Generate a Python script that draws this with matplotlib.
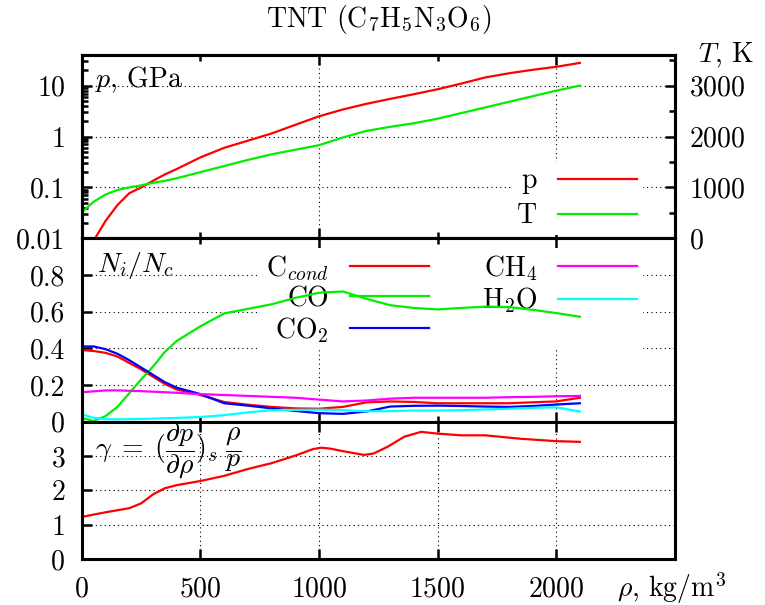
import numpy as np
import matplotlib.pyplot as plt
from matplotlib.ticker import LogLocator, NullFormatter

plt.rcParams['font.family'] = 'serif'
plt.rcParams['font.serif'] = ['cmr10']
plt.rcParams['mathtext.fontset'] = 'cm'
plt.rcParams['axes.formatter.use_mathtext'] = True
plt.rcParams['font.size'] = 20

# density grid, kg/m^3
rho = [0, 50, 100, 150, 200, 250, 300, 350, 400, 500, 600, 700, 800, 900,
       1000, 1100, 1200, 1300, 1400, 1500, 1600, 1700, 1800, 1900, 2000, 2100]

# pressure, GPa and temperature, K
p = [0.004, 0.009, 0.022, 0.045, 0.077, 0.10, 0.135, 0.18, 0.23, 0.39, 0.6, 0.83, 1.15,
     1.7, 2.5, 3.4, 4.4, 5.5, 6.8, 8.5, 11.0, 14.5, 17.5, 20.5, 23.5, 28.0]
T = [510, 720, 860, 950, 1000, 1040, 1090, 1130, 1180, 1300, 1420, 1540, 1650,
     1740, 1830, 1980, 2110, 2190, 2260, 2350, 2460, 2570, 2680, 2790, 2900, 3000]

# N_i / N_c
c_cond = [0.39, 0.385, 0.375, 0.355, 0.32, 0.285, 0.245, 0.205, 0.175, 0.145, 0.107, 0.092, 0.08,
          0.072, 0.07, 0.08, 0.105, 0.11, 0.107, 0.10, 0.10, 0.10, 0.10, 0.105, 0.11, 0.13]
co = [0.02, 0.003, 0.03, 0.08, 0.155, 0.23, 0.30, 0.38, 0.44, 0.52, 0.59, 0.615, 0.64,
      0.675, 0.703, 0.71, 0.67, 0.635, 0.62, 0.612, 0.62, 0.627, 0.625, 0.61, 0.592, 0.572]
co2 = [0.41, 0.41, 0.395, 0.37, 0.335, 0.295, 0.255, 0.215, 0.185, 0.15, 0.10, 0.087, 0.072,
       0.058, 0.046, 0.042, 0.055, 0.082, 0.086, 0.087, 0.085, 0.082, 0.08, 0.085, 0.093, 0.10]
ch4 = [0.16, 0.165, 0.17, 0.17, 0.168, 0.166, 0.163, 0.16, 0.157, 0.15, 0.145, 0.14, 0.135,
       0.13, 0.12, 0.11, 0.115, 0.125, 0.13, 0.13, 0.13, 0.13, 0.133, 0.135, 0.138, 0.14]
h2o = [0.04, 0.02, 0.013, 0.012, 0.013, 0.014, 0.016, 0.018, 0.02, 0.025, 0.035, 0.05, 0.062,
       0.064, 0.065, 0.062, 0.056, 0.057, 0.06, 0.06, 0.062, 0.066, 0.07, 0.075, 0.078, 0.055]

# adiabatic exponent, read on its own density points
rho_g = [0, 25, 100, 200, 250, 300, 350, 400, 500, 600, 700, 800, 900, 975, 1010,
         1050, 1100, 1190, 1230, 1290, 1360, 1430, 1500, 1600, 1700, 1850, 2000, 2100]
gamma = [1.22, 1.26, 1.36, 1.48, 1.62, 1.88, 2.06, 2.15, 2.27, 2.42, 2.62, 2.79, 3.01, 3.20, 3.24,
         3.21, 3.14, 3.03, 3.07, 3.27, 3.56, 3.70, 3.65, 3.60, 3.60, 3.50, 3.43, 3.41]

p_ticks = [0.01, 0.1, 1, 10]
p_labels = ['0.01', '0.1', '1', '10']
T_ticks = [0, 1000, 2000, 3000]
N_ticks = [0, 0.2, 0.4, 0.6, 0.8]
N_labels = ['0', '0.2', '0.4', '0.6', '0.8']
g_ticks = [0, 1, 2, 3]
x_ticks = [0, 500, 1000, 1500, 2000]

GREEN = '#00ee00'
LW = 1.6

fig = plt.figure(figsize=(7.65, 6.05), dpi=100)
gs = fig.add_gridspec(3, 1, height_ratios=[4, 4, 3], hspace=0,
                      left=0.107, right=0.882, top=0.909, bottom=0.076)
ax1 = fig.add_subplot(gs[0])
ax2 = fig.add_subplot(gs[1])
ax3 = fig.add_subplot(gs[2])


def style(ax):
    for s in ax.spines.values():
        s.set_linewidth(2.2)
    ax.tick_params(which='both', direction='in', top=True, right=False, width=1.8)
    ax.tick_params(which='major', length=7, pad=12)
    ax.tick_params(which='minor', length=4)
    ax.grid(True, which='major', ls=(0, (1, 3)), color='black', lw=0.8)
    ax.set_axisbelow(True)
    ax.set_xlim(0, 2500)


for ax in (ax1, ax2, ax3):
    style(ax)

# top panel: p and T
ax1.set_yscale('log')
ax1.set_ylim(0.01, 40)
ax1.set_yticks(p_ticks, p_labels)
ax1.yaxis.set_minor_locator(LogLocator(subs=np.arange(2, 10)))
ax1.yaxis.set_minor_formatter(NullFormatter())
ax1.set_xticks([0, 1000, 2000], [])
ax1.set_xticks([500, 1500, 2500], minor=True)
lp, = ax1.plot(rho, p, color='red', lw=LW)

axT = ax1.twinx()
axT.set_ylim(0, 3600)
axT.set_yticks(T_ticks)
axT.set_yticks([500, 1500, 2500, 3500], minor=True)
axT.tick_params(which='both', direction='in', width=1.8)
axT.tick_params(which='major', length=7, pad=10)
axT.tick_params(which='minor', length=4)
for s in axT.spines.values():
    s.set_linewidth(2.2)
lT, = axT.plot(rho, T, color=GREEN, lw=LW)

leg1 = axT.legend([lp, lT], ['p', 'T'], loc='lower right', bbox_to_anchor=(0.946, 0.018),
                  markerfirst=False, handlelength=2.85, handletextpad=0.75,
                  labelspacing=0.32, borderpad=0.2, borderaxespad=0,
                  fancybox=False, framealpha=1)
leg1.get_frame().set_edgecolor('none')
leg1.set_zorder(1)

ax1.text(0.022, 0.95, '$p$, GPa', transform=ax1.transAxes, va='top', ha='left')
fig.text(0.912, 0.909, '$T$, K', va='center', ha='left')

# middle panel: species fractions
ax2.set_ylim(0, 1.0)
ax2.set_yticks(N_ticks, N_labels)
ax2.set_xticks([0, 1000, 2000], [])
ax2.set_xticks([500, 1500, 2500], minor=True)
h1, = ax2.plot(rho, c_cond, color='red', lw=LW)
h2, = ax2.plot(rho, co, color=GREEN, lw=LW)
h3, = ax2.plot(rho, co2, color='blue', lw=LW)
h4, = ax2.plot(rho, ch4, color='magenta', lw=LW)
h5, = ax2.plot(rho, h2o, color='cyan', lw=LW)
leg2 = ax2.legend([h1, h2, h3, h4, h5],
                  ['C$_{cond}$', 'CO', 'CO$_2$', 'CH$_4$', 'H$_2$O'],
                  ncol=2, loc='upper right', bbox_to_anchor=(0.946, 0.949),
                  markerfirst=False, handlelength=2.85, handletextpad=0.75,
                  columnspacing=1.9, labelspacing=0.1, borderpad=0.2, borderaxespad=0,
                  fancybox=False, framealpha=1)
leg2.get_frame().set_edgecolor('none')
leg2.set_zorder(1)
ax2.text(0.025, 0.85, '$N_i/N_c$', transform=ax2.transAxes, va='center', ha='left')

# bottom panel: gamma
ax3.set_ylim(0, 4)
ax3.set_yticks(g_ticks)
ax3.set_xticks(x_ticks)
ax3.plot(rho_g, gamma, color='red', lw=LW)
ax3.text(0.022, 0.79,
         r'$\gamma\;=\;(\dfrac{\partial p}{\partial \rho})_s\;\dfrac{\rho}{p}$',
         transform=ax3.transAxes, va='center', ha='left')
ax3.text(0.995, -0.21, r'$\rho$, kg/m$^3$', transform=ax3.transAxes, va='center', ha='center')

fig.text(0.495, 0.967, 'TNT (C$_7$H$_5$N$_3$O$_6$)', ha='center', va='center')

fig.savefig('out.png', dpi=100)
